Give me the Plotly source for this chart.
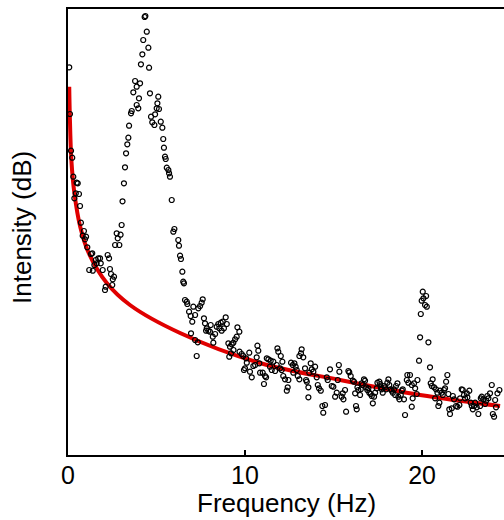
import plotly.graph_objects as go

# Frequency (Hz) and intensity (dB, arbitrary offset)
freq_hz = [
    0.07, 0.11, 0.17, 0.24, 0.30, 0.36, 0.44, 0.49, 0.55, 0.62, 0.68, 0.73, 0.83, 0.90, 0.96, 1.02,
    1.09, 1.20, 1.30, 1.37, 1.40, 1.49, 1.57, 1.62, 1.71, 1.81, 1.85, 1.96, 2.09, 2.13, 2.24, 2.32,
    2.37, 2.43, 2.50, 2.53, 2.60, 2.66, 2.75, 2.81, 2.90, 2.97, 3.03, 3.08, 3.16, 3.22, 3.28, 3.35,
    3.41, 3.45, 3.56, 3.60, 3.69, 3.79, 3.88, 3.88, 3.97, 4.01, 4.07, 4.12, 4.20, 4.25, 4.33, 4.37,
    4.45, 4.54, 4.58, 4.63, 4.69, 4.76, 4.88, 4.92, 5.01, 5.05, 5.10, 5.14, 5.24, 5.33, 5.38, 5.42,
    5.48, 5.52, 5.58, 5.67, 5.71, 5.76, 5.86, 5.95, 6.01, 6.23, 6.27, 6.33, 6.38, 6.46, 6.51, 6.55,
    6.61, 6.71, 6.74, 6.84, 6.93, 7.02, 7.08, 7.18, 6.95, 7.18, 7.33, 7.27, 7.36, 7.46, 7.55, 7.61,
    7.68, 7.74, 7.80, 7.84, 7.93, 8.02, 8.06, 8.18, 8.21, 8.31, 8.40, 8.49, 8.55, 8.63, 8.68, 8.74,
    8.81, 8.91, 8.97, 9.06, 9.11, 9.15, 9.21, 9.25, 9.34, 9.35, 9.44, 9.53, 9.57, 9.68, 9.69, 9.81,
    9.90, 9.94, 10.00, 10.06, 10.10, 10.24, 10.28, 10.38, 10.47, 10.57, 10.66, 10.70, 10.75, 10.81, 10.85, 11.00,
    11.07, 11.13, 11.19, 11.23, 11.32, 11.41, 11.45, 11.51, 11.60, 11.70, 11.79, 11.83, 11.88, 11.98, 12.02, 12.07,
    12.11, 12.16, 12.26, 12.36, 12.41, 12.45, 12.60, 12.70, 12.73, 12.79, 12.86, 12.92, 12.98, 13.07, 13.07, 13.16,
    13.20, 13.29, 13.39, 13.45, 13.49, 13.58, 13.58, 13.63, 13.71, 13.77, 13.86, 13.96, 14.05, 14.11, 14.18, 14.28,
    14.37, 14.42, 14.52, 14.62, 14.67, 14.80, 14.90, 14.99, 15.09, 15.18, 15.24, 15.30, 15.33, 15.46, 15.52, 15.56,
    15.65, 15.71, 15.84, 15.89, 15.97, 16.09, 16.16, 16.22, 16.27, 16.31, 16.35, 16.40, 16.50, 16.54, 16.59, 16.65,
    16.72, 16.78, 16.84, 16.91, 16.97, 17.02, 17.10, 17.16, 17.22, 17.29, 17.35, 17.44, 17.48, 17.59, 17.63, 17.67,
    17.72, 17.78, 17.85, 17.91, 17.97, 18.04, 18.10, 18.15, 18.23, 18.29, 18.35, 18.42, 18.48, 18.53, 18.61, 18.66,
    18.72, 18.80, 18.86, 18.91, 18.98, 19.04, 19.14, 19.17, 19.23, 19.32, 19.42, 19.42, 19.47, 19.55, 19.61, 19.70,
    19.74, 19.83, 19.89, 19.93, 19.98, 20.04, 20.08, 20.17, 20.23, 20.27, 20.36, 20.45, 20.49, 20.55, 20.60, 20.68,
    20.74, 20.79, 20.87, 20.92, 20.98, 21.02, 21.11, 21.17, 21.24, 21.30, 21.36, 21.43, 21.49, 21.54, 21.58, 21.68,
    21.74, 21.81, 21.92, 22.00, 22.11, 22.15, 22.24, 22.30, 22.37, 22.43, 22.53, 22.56, 22.67, 22.75, 22.81, 22.87,
    22.94, 23.00, 23.09, 23.18, 23.28, 23.32, 23.37, 23.46, 23.56, 23.62, 23.69, 23.75, 23.84, 23.94, 24.00, 24.07,
    24.13, 24.18, 24.26, 24.37,
]
intensity_db = [
    38.77, 34.10, 30.43, 29.73, 27.83, 25.67, 26.17, 27.23, 27.17, 26.10, 24.90, 23.23, 21.93, 22.40, 21.57, 21.83,
    20.77, 18.50, 20.10, 20.17, 18.43, 19.00, 19.50, 19.17, 19.67, 19.67, 19.17, 18.50, 16.50, 16.83, 20.00, 19.67,
    18.60, 18.10, 17.00, 17.57, 17.83, 21.00, 22.17, 21.67, 21.00, 22.03, 23.00, 25.37, 27.17, 28.77, 30.17, 31.07,
    31.73, 32.93, 34.17, 34.40, 36.27, 37.40, 36.83, 35.00, 34.67, 35.67, 37.17, 39.07, 40.07, 41.50, 43.80, 43.90,
    42.33, 40.73, 38.73, 36.17, 33.83, 33.27, 33.00, 34.07, 34.67, 35.17, 35.83, 34.60, 33.33, 32.73, 31.60, 30.73,
    29.83, 29.60, 28.73, 28.50, 28.17, 27.83, 25.50, 22.33, 22.60, 21.50, 20.93, 19.93, 19.60, 18.33, 17.33, 17.17,
    15.50, 15.33, 15.10, 14.33, 13.90, 13.33, 14.83, 14.00, 12.17, 11.50, 11.27, 9.90, 14.67, 14.90, 15.23, 15.57,
    13.67, 13.17, 12.43, 12.67, 12.43, 12.33, 13.00, 11.83, 11.23, 12.10, 12.83, 13.10, 12.67, 13.23, 12.43, 13.33,
    12.67, 13.77, 13.10, 11.17, 9.83, 10.83, 10.17, 11.07, 11.23, 10.50, 11.57, 11.83, 12.77, 12.33, 10.33, 10.10,
    9.90, 8.50, 8.67, 9.67, 9.23, 10.23, 8.33, 7.77, 8.90, 9.00, 9.77, 10.93, 10.43, 9.17, 8.23, 8.23,
    7.10, 7.90, 7.77, 9.67, 9.57, 8.83, 9.43, 8.50, 9.33, 8.40, 9.00, 10.67, 10.33, 8.67, 9.90, 8.50,
    9.33, 7.90, 7.57, 6.43, 6.77, 7.50, 9.23, 9.00, 8.23, 9.17, 8.83, 8.50, 7.90, 9.90, 7.57, 10.17,
    10.57, 9.77, 8.67, 7.50, 7.33, 6.77, 5.77, 8.23, 9.17, 8.57, 8.33, 8.83, 7.77, 7.00, 6.67, 6.43,
    4.90, 4.23, 5.00, 7.77, 7.50, 8.57, 6.90, 6.83, 5.83, 6.23, 7.50, 9.00, 8.33, 5.83, 6.17, 5.57,
    6.50, 4.33, 8.40, 8.27, 7.90, 7.43, 7.33, 6.17, 4.90, 4.57, 6.77, 6.50, 6.00, 6.57, 7.17, 7.00,
    7.57, 7.43, 6.77, 6.50, 6.67, 6.23, 6.10, 5.90, 5.17, 5.83, 6.23, 6.67, 7.23, 7.33, 7.10, 6.77,
    6.57, 6.23, 6.90, 6.77, 6.57, 7.23, 7.57, 7.00, 6.57, 6.43, 6.23, 6.57, 6.00, 6.90, 7.17, 5.83,
    5.57, 6.00, 6.43, 6.57, 5.57, 4.00, 7.50, 8.00, 7.23, 8.00, 7.00, 4.83, 5.67, 7.17, 6.67, 6.10,
    7.50, 9.43, 11.77, 14.10, 15.43, 16.33, 15.67, 15.00, 15.90, 14.83, 11.27, 8.77, 7.17, 6.90, 7.57, 6.77,
    5.67, 6.57, 6.23, 4.90, 5.23, 6.43, 6.23, 6.00, 6.50, 6.67, 7.33, 8.00, 6.10, 4.57, 4.10, 4.67,
    5.90, 5.57, 4.90, 4.83, 5.00, 5.67, 6.57, 6.50, 6.00, 5.67, 6.17, 5.77, 6.43, 5.23, 4.90, 4.57,
    4.90, 5.23, 4.77, 4.10, 4.90, 5.67, 5.83, 5.57, 5.10, 5.43, 5.90, 5.67, 6.17, 7.00, 4.10, 3.83,
    5.50, 4.77, 6.17, 6.50,
]

# Power-law fit curve
fit_hz = [0.07, 0.10, 0.19, 0.36, 0.69, 1.17, 2.19, 3.50, 6.33, 10.85, 15.37, 19.89, 24.41]
fit_db = [36.83, 34.17, 29.50, 26.20, 22.83, 20.20, 17.20, 15.00, 12.20, 9.20, 7.50, 6.00, 4.90]

x_ticks = [0, 10, 20]
x_tick_text = ["0", "10", "20"]

FONT = "Liberation Sans, Arial, sans-serif"

fig = go.Figure()
fig.add_trace(go.Scatter(
    x=fit_hz, y=fit_db, mode="lines",
    line=dict(color="#e00000", width=4, shape="spline", smoothing=1.0),
    hoverinfo="skip", showlegend=False,
))
fig.add_trace(go.Scatter(
    x=freq_hz, y=intensity_db, mode="markers",
    marker=dict(symbol="circle-open", size=5, color="black", line=dict(width=1.2, color="black")),
    showlegend=False,
))

fig.update_layout(
    width=504, height=520,
    margin=dict(l=68, r=0, t=9, b=65, autoexpand=False),
    paper_bgcolor="white", plot_bgcolor="white",
    font=dict(family=FONT, size=25, color="black"),
    xaxis=dict(
        range=[0, 24.63], tickvals=x_ticks, ticktext=x_tick_text,
        ticks="inside", ticklen=5, tickwidth=2, tickcolor="black",
        showline=True, linecolor="black", linewidth=2, mirror=True,
        showgrid=False, zeroline=False, automargin=False,
        tickfont=dict(family=FONT, size=25), ticklabelstandoff=-3,
    ),
    yaxis=dict(
        range=[0, 44.6], showticklabels=False, ticks="",
        showline=True, linecolor="black", linewidth=2,
        showgrid=False, zeroline=False, automargin=False,
    ),
    annotations=[
        dict(text="Frequency (Hz)", xref="paper", yref="paper", x=0.5, y=-0.1076,
             xanchor="center", yanchor="middle", showarrow=False,
             font=dict(family=FONT, size=26, color="black")),
        dict(text="Intensity (dB)", xref="paper", yref="paper", x=-0.1055, y=0.509,
             xanchor="center", yanchor="middle", textangle=-90, showarrow=False,
             font=dict(family=FONT, size=26, color="black")),
    ],
)

fig.write_html(
    "out.html",
    config=dict(displayModeBar=False),
    post_script="document.body.style.margin='0';document.body.style.overflow='hidden';",
)
